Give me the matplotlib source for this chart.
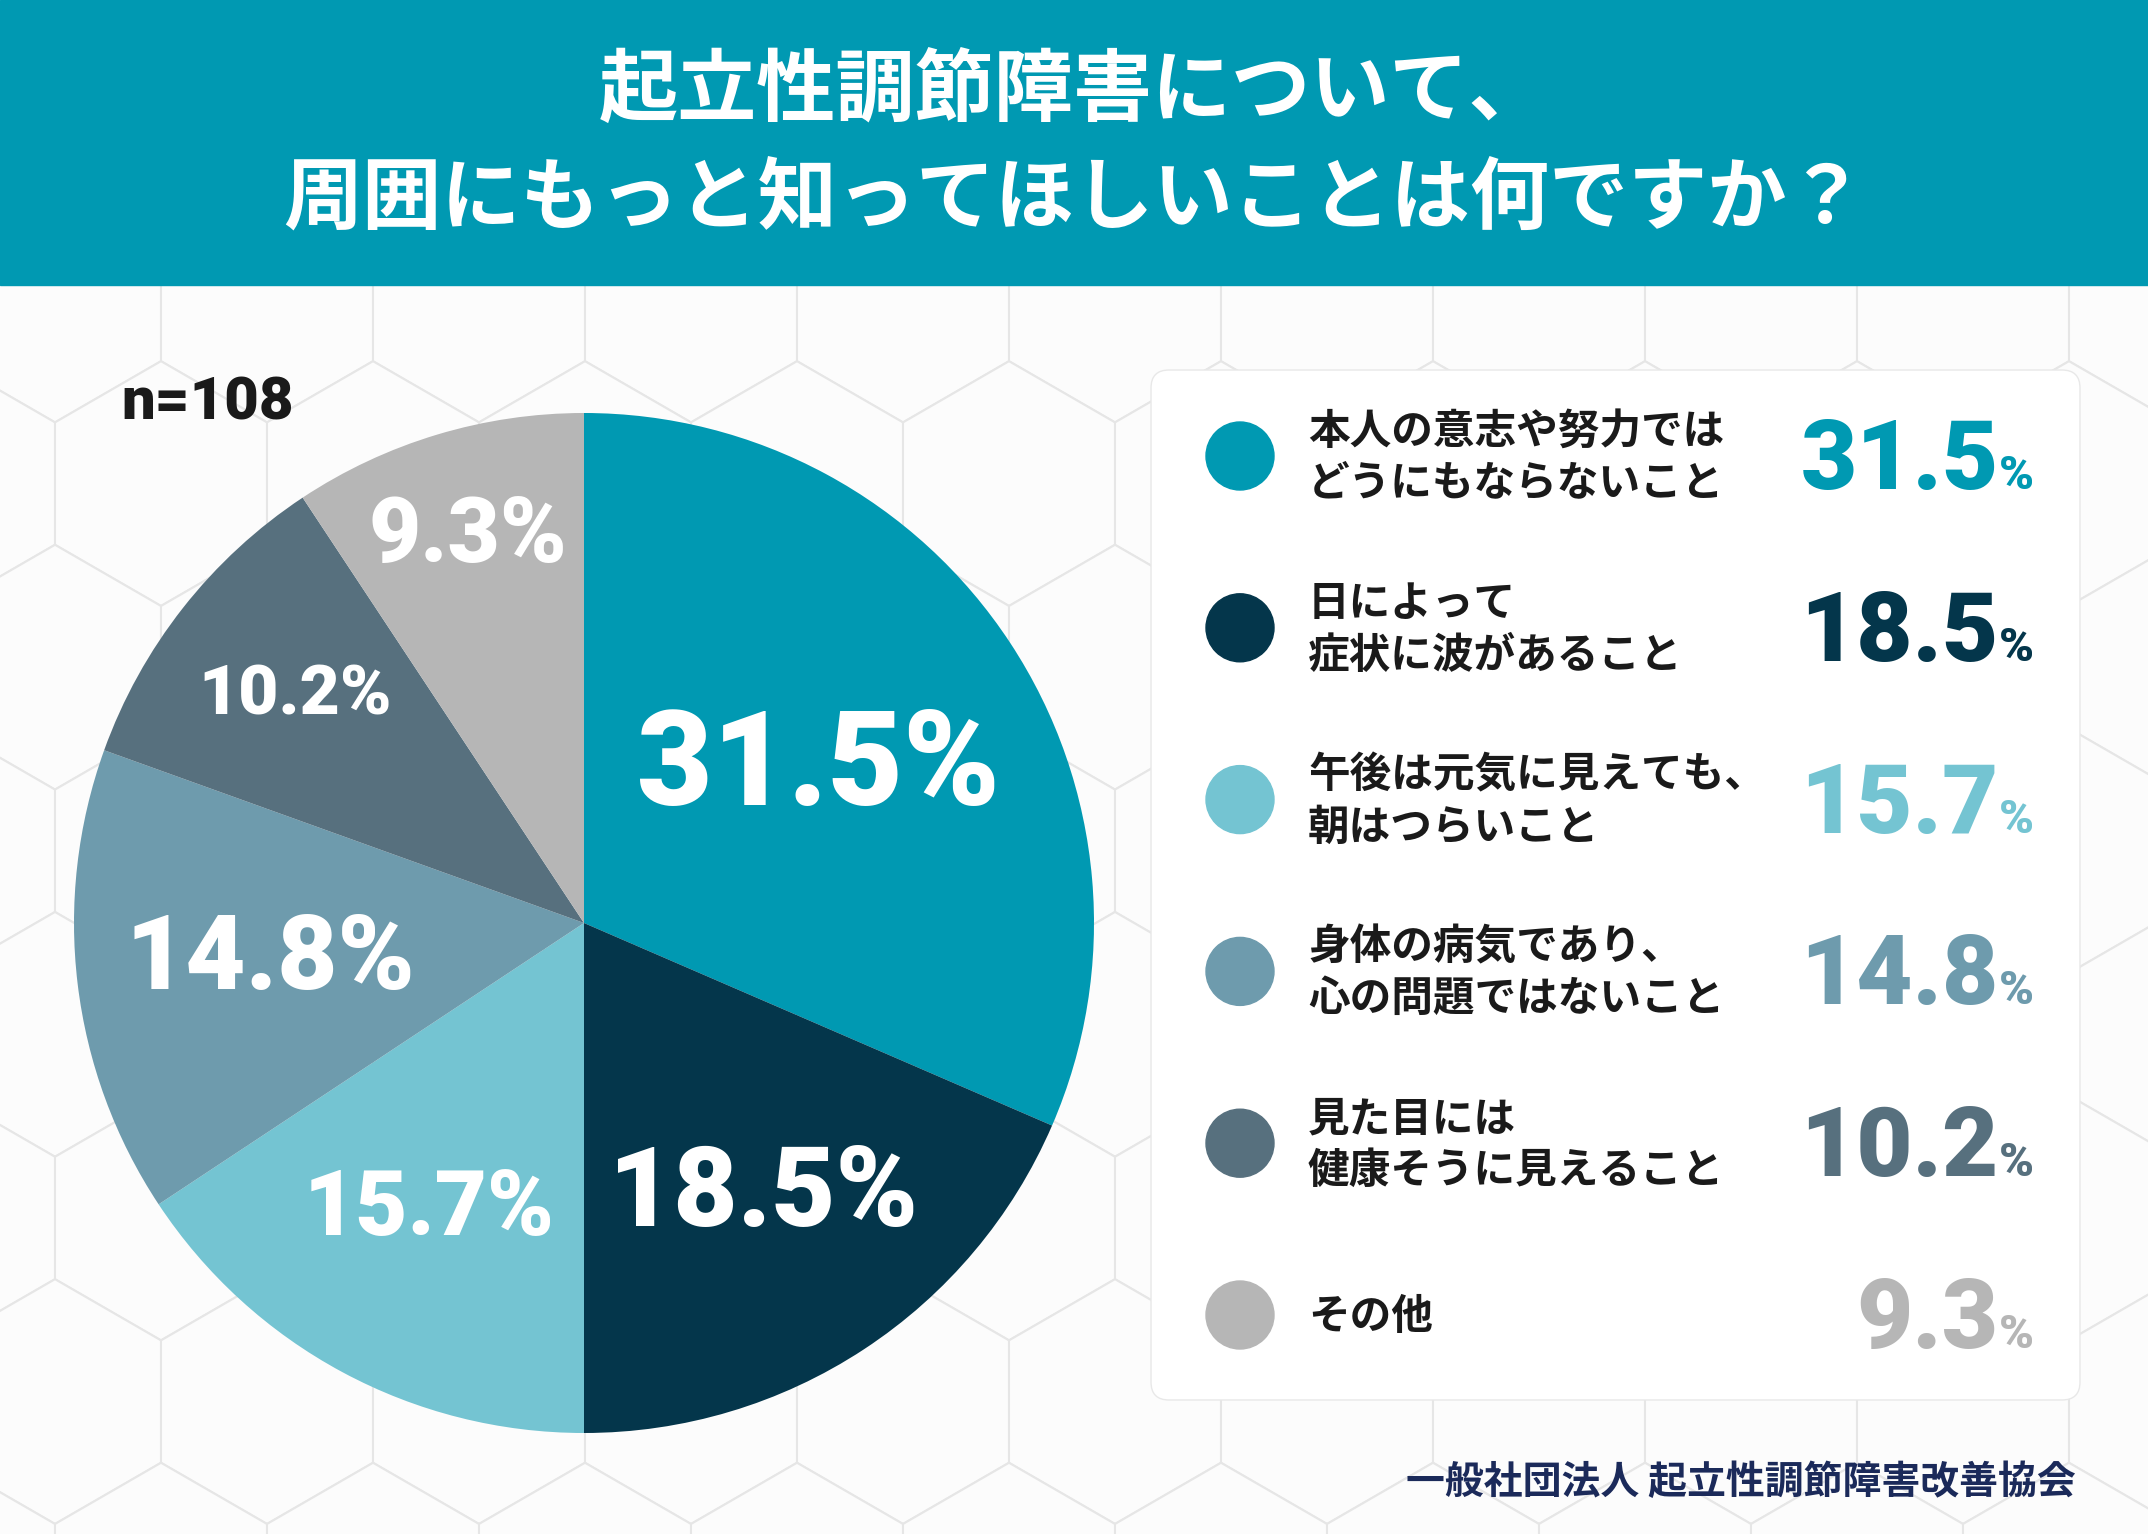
import numpy as np
import matplotlib
matplotlib.use("Agg")
import matplotlib.pyplot as plt
from matplotlib.patches import FancyBboxPatch, Circle, Rectangle, RegularPolygon

plt.rcParams['font.family'] = ['Noto Sans CJK JP', 'DejaVu Sans']

# data
title_lines = ["起立性調節障害について、", "周囲にもっと知ってほしいことは何ですか？"]
categories = ["本人の意志や努力では\nどうにもならないこと",
              "日によって\n症状に波があること",
              "午後は元気に見えても、\n朝はつらいこと",
              "身体の病気であり、\n心の問題ではないこと",
              "見た目には\n健康そうに見えること",
              "その他"]
values = [31.5, 18.5, 15.7, 14.8, 10.2, 9.3]
colors = ["#0099B2", "#04364B", "#74C4D2", "#6E9BAD", "#57707E", "#B6B6B6"]
n_text = "n=108"
footer = "一般社団法人 起立性調節障害改善協会"

# label placement (fraction of radius) and font size inside the pie
label_r = [0.55, 0.64, 0.64, 0.62, 0.72, 0.79]
label_fs = [94, 80, 65, 75, 50, 65]

W, H = 2148, 1534
fig = plt.figure(figsize=(W / 100, H / 100), dpi=100)
ax = fig.add_axes([0, 0, 1, 1])
ax.set_xlim(0, W)
ax.set_ylim(0, H)
ax.axis('off')

# background with faint hexagons
ax.add_patch(Rectangle((0, 0), W, H, color="#F8F8F8", zorder=0))
hw = 212
hr = hw / np.sqrt(3)
for row in range(-1, 12):
    for col in range(-1, 12):
        hx = col * hw + (hw / 2 if row % 2 else 0) + 55
        hy = H - 300 - row * 1.5 * hr
        ax.add_patch(RegularPolygon((hx, hy), 6, radius=hr, orientation=0,
                                    facecolor="#FCFCFC", edgecolor="#E6E6E6",
                                    lw=1.5, zorder=0.5))

# header
ax.add_patch(Rectangle((0, H - 285), W, 285, color="#0099B2", zorder=1))
ax.text(W / 2, H - 91, title_lines[0], color="white", fontsize=57,
        fontweight="bold", ha="center", va="center", zorder=2)
ax.text(W / 2, H - 199, title_lines[1], color="white", fontsize=57,
        fontweight="bold", ha="center", va="center", zorder=2)

# pie
cx, cy, R = 584, H - 923, 510
wedges, _ = ax.pie(values, colors=colors, startangle=90, counterclock=False,
                   center=(cx, cy), radius=R, frame=True,
                   wedgeprops=dict(linewidth=0))
for w in wedges:
    w.set_zorder(2)
ax.set_xlim(0, W)
ax.set_ylim(0, H)
ax.axis('off')

num_font = ['Roboto', 'DejaVu Sans']
cum = np.cumsum([0] + values)
for i, v in enumerate(values):
    mid = (cum[i] + cum[i + 1]) / 2 / 100 * 360
    ang = np.deg2rad(90 - mid)
    x = cx + label_r[i] * R * np.cos(ang)
    y = cy + label_r[i] * R * np.sin(ang)
    ax.text(x, y, f"{v}%", color="white", fontsize=label_fs[i],
            fontweight="black", family=num_font, ha="center", va="center",
            zorder=3)

ax.text(121, H - 404, n_text, fontsize=43, fontweight="black", family=num_font,
        color="#1A1A1A", ha="left", va="center", zorder=3)

# legend panel
ax.add_patch(FancyBboxPatch((1151, H - 1400), 929, 1030,
                            boxstyle="round,pad=0,rounding_size=18",
                            facecolor="white", edgecolor="#E8E8E8", lw=1,
                            zorder=2))
fig.canvas.draw()
renderer = fig.canvas.get_renderer()
row_y = 456
for i, (lab, v) in enumerate(zip(categories, values)):
    yy = H - (row_y + i * 171.8)
    ax.add_patch(Circle((1240, yy), 34, color=colors[i], zorder=3))
    ax.text(1308, yy - 2, lab, fontsize=30, fontweight="bold", color="#1A1A1A",
            ha="left", va="center", linespacing=1.3, zorder=3)
    base = yy - 33
    t = ax.text(2034, base, "%", fontsize=34, fontweight="black",
                family=num_font, color=colors[i], ha="right",
                va="baseline", zorder=3)
    pw = t.get_window_extent(renderer).width
    ax.text(2034 - pw, base, f"{v}", fontsize=70, fontweight="black",
            family=num_font, color=colors[i], ha="right", va="baseline",
            zorder=3)

ax.text(2076, H - 1482, footer, fontsize=28, fontweight="bold",
        color="#1B2A5A", ha="right", va="center", zorder=3)

fig.savefig("out.png", dpi=100)
